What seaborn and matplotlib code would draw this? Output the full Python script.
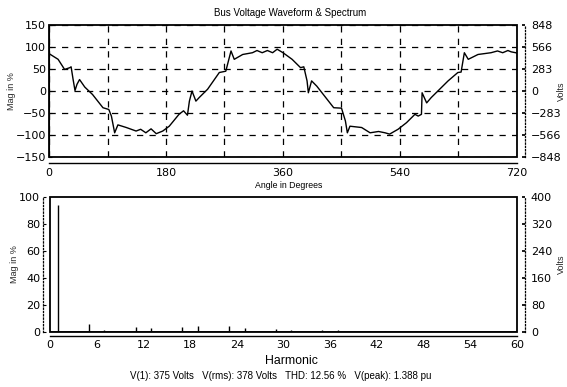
import numpy as np
import pandas as pd
import seaborn as sns
import matplotlib
matplotlib.use("Agg")
import matplotlib.pyplot as plt
from matplotlib.patches import Rectangle

# ---------------- data ----------------
angle_deg = [0, 14, 24, 32, 34, 37, 40, 43, 47, 55, 67, 83, 92, 96, 101, 106, 119, 134, 141,
             149, 157, 165, 175, 185, 200, 207, 213, 216, 220, 226, 231, 244, 262, 272, 280,
             285, 298, 313, 320, 328, 336, 344, 351, 360, 374, 387, 392, 397, 399, 404, 412,
             438, 450, 456, 459, 463, 481, 494, 507, 517, 524, 537, 550, 563, 568, 573, 574,
             581, 588, 614, 629, 634, 639, 645, 660, 680, 690, 698, 706, 711, 718, 720]
mag_pct = [85, 72, 49, 53, 55, 27, 1, 15, 26, 9, -8, -38, -42, -57, -95, -77, -83, -91, -87,
           -95, -86, -97, -91, -80, -53, -45, -55, -23, 0, -23, -15, 4, 42, 45, 91,
           72, 83, 87, 92, 87, 92, 87, 95, 87, 72, 53, 55, 23, -4, 23, 11,
           -38, -39, -68, -95, -80, -83, -95, -92, -95, -98, -87, -72, -53, -57, -53, -4,
           -27, -15, 23, 42, 43, 87, 72, 83, 87, 91, 87, 92, 89, 87, 86]

harmonics = [1, 5, 7, 11, 13, 17, 19, 23, 25, 29, 31, 35, 37, 41, 43, 47, 49]
harm_mag = [94, 5.5, 1.5, 3.5, 2.8, 3.5, 4.0, 4.5, 2.5, 2.0, 1.2, 1.0, 0.9, 0.7, 0.6, 0.5, 0.5]

top_xticks = [0, 180, 360, 540, 720]
top_yticks = [-150, -100, -50, 0, 50, 100, 150]
top_volt_ticks = [-848, -566, -283, 0, 283, 566, 848]
bot_xticks = [0, 6, 12, 18, 24, 30, 36, 42, 48, 54, 60]
bot_yticks = [0, 20, 40, 60, 80, 100]
bot_volt_ticks = [0, 80, 160, 240, 320, 400]

title = "Bus Voltage Waveform & Spectrum"
stats = "V(1): 375 Volts   V(rms): 378 Volts   THD: 12.56 %   V(peak): 1.388 pu"

# ---------------- style ----------------
sns.set_theme(style="white")
plt.rcParams['font.family'] = ['Liberation Sans', 'DejaVu Sans']
plt.rcParams['axes.edgecolor'] = 'black'
plt.rcParams['xtick.color'] = 'black'
plt.rcParams['ytick.color'] = 'black'
plt.rcParams['text.color'] = 'black'

TICK_FONT = dict(family='DejaVu Sans', size=8)

fig = plt.figure(figsize=(5.67, 3.87), dpi=100)
fig.patch.set_facecolor('white')

ax1 = fig.add_axes([49/567, 1-157/387, (517-49)/567, (157-25)/387])
ax3 = fig.add_axes([50/567, 1-331.7/387, (517-50)/567, (331.7-197)/387])

def frame(ax):
    ax.add_patch(Rectangle((0, 0), 1, 1, transform=ax.transAxes, fill=False,
                           lw=1.3, ec='black', clip_on=False, zorder=5))
    for s in ['top', 'right']:
        ax.spines[s].set_visible(False)

def tickfont(ax):
    for lab in ax.get_xticklabels() + ax.get_yticklabels():
        lab.set_fontfamily(TICK_FONT['family'])
        lab.set_fontsize(TICK_FONT['size'])

# ---- top waveform ----
wave = pd.DataFrame({"angle": angle_deg, "mag": mag_pct})
sns.lineplot(data=wave, x="angle", y="mag", ax=ax1, color='black', lw=1.0,
             estimator=None, sort=False)
ax1.set_xlim(0, 720)
ax1.set_ylim(-150, 150)
ax1.set_xticks(top_xticks)
ax1.set_xticks([90, 270, 450, 630], minor=True)
ax1.set_yticks(top_yticks)
ax1.grid(True, which='both', axis='both', color='black', lw=0.9, ls=(0, (5, 5)))
frame(ax1)
ax1.spines['bottom'].set_position(('outward', 4))
ax1.spines['bottom'].set_linewidth(1.0)
ax1.spines['left'].set_linewidth(0.8)
ax1.tick_params(axis='both', length=2, width=0.8, pad=2, direction='in')
ax1.tick_params(axis='x', pad=4)
ax1.tick_params(axis='x', which='minor', length=0)
ax1.set_xlabel("")
ax1.set_ylabel("Mag in %", fontsize=6.5, labelpad=0)
tickfont(ax1)

LABEL_X = 1 + (557 - 517) / 468

ax2 = ax1.twinx()
ax2.set_ylim(-848, 848)
ax2.set_yticks(top_volt_ticks)
for s in ['top', 'left', 'bottom']:
    ax2.spines[s].set_visible(False)
ax2.spines['right'].set_position(('outward', 6))
ax2.spines['right'].set_linestyle(':')
ax2.spines['right'].set_linewidth(0.9)
ax2.tick_params(axis='y', length=2, direction='in', pad=4)
ax2.set_ylabel("Volts", fontsize=6.5)
ax2.yaxis.set_label_coords(LABEL_X, 0.5)
ax2.grid(False)
tickfont(ax2)

# ---- bottom spectrum ----
ax3.vlines(harmonics, 0, harm_mag, color='black', lw=1.0)
ax3.axhline(0, color='black', lw=1.2)
ax3.set_xlim(0, 60)
ax3.set_ylim(0, 100)
ax3.set_xticks(bot_xticks)
ax3.set_yticks(bot_yticks)
ax3.grid(False)
frame(ax3)
ax3.spines['bottom'].set_position(('outward', 3))
ax3.spines['bottom'].set_linewidth(1.0)
ax3.spines['left'].set_position(('outward', 5))
ax3.spines['left'].set_linestyle(':')
ax3.spines['left'].set_linewidth(0.9)
ax3.tick_params(axis='both', length=2, width=0.8, pad=2, direction='in')
ax3.tick_params(axis='x', pad=3)
ax3.set_ylabel("Mag in %", fontsize=6.5, labelpad=0)
tickfont(ax3)

ax4 = ax3.twinx()
ax4.set_ylim(0, 400)
ax4.set_yticks(bot_volt_ticks)
for s in ['top', 'left', 'bottom']:
    ax4.spines[s].set_visible(False)
ax4.spines['right'].set_position(('outward', 6))
ax4.spines['right'].set_linestyle(':')
ax4.spines['right'].set_linewidth(0.9)
ax4.tick_params(axis='y', length=2, direction='in', pad=4)
ax4.set_ylabel("Volts", fontsize=6.5)
ax4.yaxis.set_label_coords(1 + (557 - 517) / 467, 0.5)
ax4.grid(False)
tickfont(ax4)

# ---- texts ----
fig.text(290/567, 1-13/387, title, ha='center', va='center', fontsize=7)
fig.text(289/567, 1-185/387, "Angle in Degrees", ha='center', va='center', fontsize=6.3)
fig.text(291/567, 1-361/387, "Harmonic", ha='center', va='center', fontsize=8.8)
fig.text(281/567, 1-376/387, stats, ha='center', va='center', fontsize=7)

fig.savefig("out.png", dpi=100, facecolor='white')
